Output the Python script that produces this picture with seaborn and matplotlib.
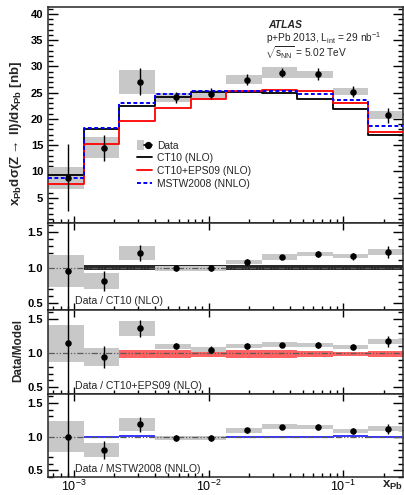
import numpy as np
import matplotlib
matplotlib.use("Agg")
import matplotlib.pyplot as plt
import seaborn as sns
from matplotlib.patches import Patch
from matplotlib.lines import Line2D
from matplotlib.legend_handler import HandlerTuple
from matplotlib.ticker import LogLocator, MultipleLocator, NullFormatter, FixedLocator

# ---------------- data ----------------
bin_edges = [6.41e-4, 1.18e-3, 2.16e-3, 4.0e-3, 7.4e-3, 1.35e-2, 2.5e-2, 4.55e-2, 8.4e-2, 0.153, 0.279]
x_points = [9.0e-4, 1.67e-3, 3.1e-3, 5.73e-3, 1.045e-2, 1.93e-2, 3.52e-2, 6.46e-2, 0.1186, 0.216]

data_vals = [8.8, 14.5, 27.05, 24.1, 24.8, 27.5, 28.8, 28.5, 25.2, 20.7]
data_stat = [6.4, 2.45, 2.55, 1.05, 1.1, 1.05, 0.8, 1.1, 1.1, 1.4]
data_syst = [2.05, 2.0, 2.25, 0.8, 0.8, 0.8, 1.0, 0.7, 0.65, 0.75]

ct10 = [9.4, 18.0, 22.4, 24.2, 25.1, 25.1, 25.0, 23.8, 21.8, 16.9]
ct10_eps09 = [7.7, 15.3, 19.7, 22.05, 23.7, 25.3, 25.6, 25.3, 23.1, 17.6]
mstw2008 = [8.8, 18.2, 23.1, 24.8, 25.3, 25.3, 25.3, 24.8, 23.6, 18.6]

ratio_ct10 = [0.95, 0.81, 1.20, 0.99, 0.99, 1.08, 1.15, 1.19, 1.16, 1.22]
ratio_eps09 = [1.14, 0.94, 1.36, 1.10, 1.05, 1.10, 1.12, 1.115, 1.09, 1.17]
ratio_mstw = [1.00, 0.80, 1.18, 0.98, 0.98, 1.09, 1.145, 1.145, 1.08, 1.115]

band_ct10_lo = [np.nan, 0.96, 0.96, 0.96, 0.96, 0.96, 0.96, 0.96, 0.96, 0.96]
band_ct10_hi = [np.nan, 1.04, 1.04, 1.04, 1.04, 1.04, 1.04, 1.04, 1.04, 1.04]
band_eps09_lo = [np.nan, np.nan, 0.93, 0.93, 0.945, 0.93, 0.93, 0.945, 0.96, 0.945]
band_eps09_hi = [np.nan, np.nan, 1.05, 1.05, 1.03, 1.05, 1.05, 1.035, 1.02, 1.035]
band_mstw_lo = [np.nan, 0.985, 0.99, 0.985, 0.985, 0.985, 0.985, 0.985, 1.0, 0.985]
band_mstw_hi = [np.nan, 1.015, 1.02, 1.015, 1.015, 1.015, 1.015, 1.015, 1.025, 1.015]

legend_labels = ["Data", "CT10 (NLO)", "CT10+EPS09 (NLO)", "MSTW2008 (NNLO)"]
ratio_labels = ["Data / CT10 (NLO)", "Data / CT10+EPS09 (NLO)", "Data / MSTW2008 (NNLO)"]

# ---------------- style ----------------
sns.set_theme(style="ticks")
plt.rcParams["font.family"] = ["Liberation Sans", "DejaVu Sans"]
plt.rcParams["mathtext.fontset"] = "custom"
plt.rcParams["mathtext.rm"] = "Liberation Sans"
plt.rcParams["mathtext.it"] = "Liberation Sans:italic"
plt.rcParams["mathtext.bf"] = "Liberation Sans:bold"
plt.rcParams["axes.linewidth"] = 1.1

GREY = "#c8c8c8"
RED = "#ff0000"
BLUE = "#0000ff"

edges = np.array(bin_edges)
left = edges[:-1]
widths = np.diff(edges)
xp = np.array(x_points)
dv = np.array(data_vals)
st = np.array(data_stat)
sy = np.array(data_syst)

fig = plt.figure(figsize=(4.04, 4.95), dpi=100)
L = 48 / 404
W = 355 / 404
H = 495
ax0 = fig.add_axes([L, 1 - 223 / H, W, 216 / H])
ax1 = fig.add_axes([L, 1 - 310 / H, W, 87 / H])
ax2 = fig.add_axes([L, 1 - 394 / H, W, 84 / H])
ax3 = fig.add_axes([L, 1 - 477 / H, W, 83 / H])

for ax in (ax0, ax1, ax2, ax3):
    ax.set_xscale("log")
    ax.set_xlim(edges[0], edges[-1])
    ax.xaxis.set_major_locator(LogLocator(base=10, numticks=10))
    ax.xaxis.set_minor_locator(LogLocator(base=10, subs=np.arange(2, 10), numticks=20))
    ax.xaxis.set_minor_formatter(NullFormatter())
    ax.tick_params(axis="both", which="both", direction="in", right=True, width=1.0,
                   colors="black")
    ax.tick_params(axis="x", which="major", length=5)
    ax.tick_params(axis="x", which="minor", length=3)
    ax.tick_params(axis="y", which="major", length=7, labelsize=8)
    ax.tick_params(axis="y", which="minor", length=3.5)

# ---------------- top panel ----------------
ax0.tick_params(axis="x", top=False, labelbottom=False)
ax0.set_ylim(0.2, 41.3)
ax0.yaxis.set_major_locator(FixedLocator([5, 10, 15, 20, 25, 30, 35, 40]))
ax0.yaxis.set_minor_locator(MultipleLocator(1))
ax0.set_yticklabels(["5", "10", "15", "20", "25", "30", "35", "40"], fontweight="bold", fontsize=8)

ax0.bar(left, 2 * sy, width=widths, bottom=dv - sy, align="edge", color=GREY, lw=0, zorder=1)

def steps(vals):
    return list(vals) + [vals[-1]]

sns.lineplot(x=edges, y=steps(ct10), ax=ax0, drawstyle="steps-post", color="black",
             lw=1.3, estimator=None, sort=False, zorder=3)
sns.lineplot(x=edges, y=steps(ct10_eps09), ax=ax0, drawstyle="steps-post", color=RED,
             lw=1.3, estimator=None, sort=False, zorder=3)
sns.lineplot(x=edges, y=steps(mstw2008), ax=ax0, drawstyle="steps-post", color=BLUE,
             lw=1.4, ls=(0, (2, 1.3)), estimator=None, sort=False, zorder=4)

ax0.errorbar(xp, dv, yerr=st, fmt="none", ecolor="black", elinewidth=1.0, capsize=0, zorder=5)
sns.scatterplot(x=xp, y=dv, ax=ax0, color="black", s=22, linewidth=0, zorder=6)
ax0.set_xlim(edges[0], edges[-1])
ax0.set_ylim(0.2, 41.3)

h_data = (Patch(facecolor=GREY, edgecolor="none"),
          Line2D([], [], color="black", lw=1.2, marker="o", ms=4.2))
h_ct = Line2D([], [], color="black", lw=1.3)
h_eps = Line2D([], [], color=RED, lw=1.3)
h_mstw = Line2D([], [], color=BLUE, lw=1.4, ls=(0, (2, 1.3)))
ax0.legend([h_data, h_ct, h_eps, h_mstw], legend_labels,
           handler_map={tuple: HandlerTuple(ndivide=None, pad=0)},
           loc="upper left", bbox_to_anchor=(0.25, 0.382), frameon=False, fontsize=7.4,
           handlelength=1.5, handleheight=1.0, handletextpad=0.45, labelspacing=0.25,
           borderaxespad=0, borderpad=0)

ax0.text(0.62, 0.918, "ATLAS", transform=ax0.transAxes, fontsize=7.5,
         fontweight="bold", fontstyle="italic", va="center", ha="left")
ax0.text(0.615, 0.858, r"p+Pb 2013, L$_{\mathregular{int}}$ = 29 nb$^{\mathregular{-1}}$",
         transform=ax0.transAxes, fontsize=7.3, va="center", ha="left")
ax0.text(0.61, 0.79, r"$\sqrt{\mathregular{s}_{\mathregular{NN}}}$ = 5.02 TeV",
         transform=ax0.transAxes, fontsize=7.3, va="center", ha="left")

fig.text(16 / 404, 1 - 133 / H,
         r"x$_{\mathregular{Pb}}$d$\mathregular{\sigma}$(Z$\rightarrow$ ll)/dx$_{\mathregular{Pb}}$ [nb]",
         rotation=90, ha="center", va="center", fontsize=9.6, fontweight="bold")

# ---------------- ratio panels ----------------
ratios = [ratio_ct10, ratio_eps09, ratio_mstw]
bands = [(band_ct10_lo, band_ct10_hi, "#2a2a2a"),
         (band_eps09_lo, band_eps09_hi, "#ff6262"),
         (band_mstw_lo, band_mstw_hi, "#3a3aff")]
rel_syst = sy / dv
rel_stat = st / dv

for ax, r, (blo, bhi, bcol), lab in zip((ax1, ax2, ax3), ratios, bands, ratio_labels):
    r = np.array(r)
    blo = np.array(blo)
    bhi = np.array(bhi)
    ax.set_ylim(0.4, 1.63)
    ax.yaxis.set_major_locator(FixedLocator([0.5, 1.0, 1.5]))
    ax.yaxis.set_minor_locator(MultipleLocator(0.1))
    ax.set_yticklabels(["0.5", "1.0", "1.5"], fontweight="bold", fontsize=8)
    ax.tick_params(axis="x", top=True, labelbottom=False)
    ok = ~np.isnan(blo)
    ax.bar(left[ok], (bhi - blo)[ok], width=widths[ok], bottom=blo[ok], align="edge",
           color=bcol, lw=0, zorder=1)
    ax.bar(left, 2 * r * rel_syst, width=widths, bottom=r - r * rel_syst, align="edge",
           color=GREY, lw=0, zorder=2)
    ax.axhline(1.0, color="0.35", lw=0.9, ls=(0, (5, 1.5, 1, 1.5, 1, 1.5)), zorder=3)
    ax.errorbar(xp, r, yerr=r * rel_stat, fmt="none", ecolor="black", elinewidth=1.0,
                capsize=0, zorder=5)
    sns.scatterplot(x=xp, y=r, ax=ax, color="black", s=22, linewidth=0, zorder=6)
    ax.set_xlim(edges[0], edges[-1])
    ax.set_ylim(0.4, 1.63)
    ax.text(0.076, 0.10, lab, transform=ax.transAxes, fontsize=7.6, ha="left", va="center")

ax3.tick_params(axis="x", labelbottom=True, labelsize=9, pad=1.5)
ax3.set_xticks([1e-3, 1e-2, 1e-1])
ax3.set_xticklabels([r"$\mathregular{10^{-3}}$", r"$\mathregular{10^{-2}}$", r"$\mathregular{10^{-1}}$"])

fig.text(18 / 404, 1 - 350 / H, "Data/Model", rotation=90, ha="center", va="center",
         fontsize=8.5, fontweight="bold")
fig.text(403 / 404, 1 - 485 / H, r"x$_{\mathregular{Pb}}$", ha="right", va="center",
         fontsize=9.5, fontweight="bold")

fig.savefig("out.png", dpi=100)
